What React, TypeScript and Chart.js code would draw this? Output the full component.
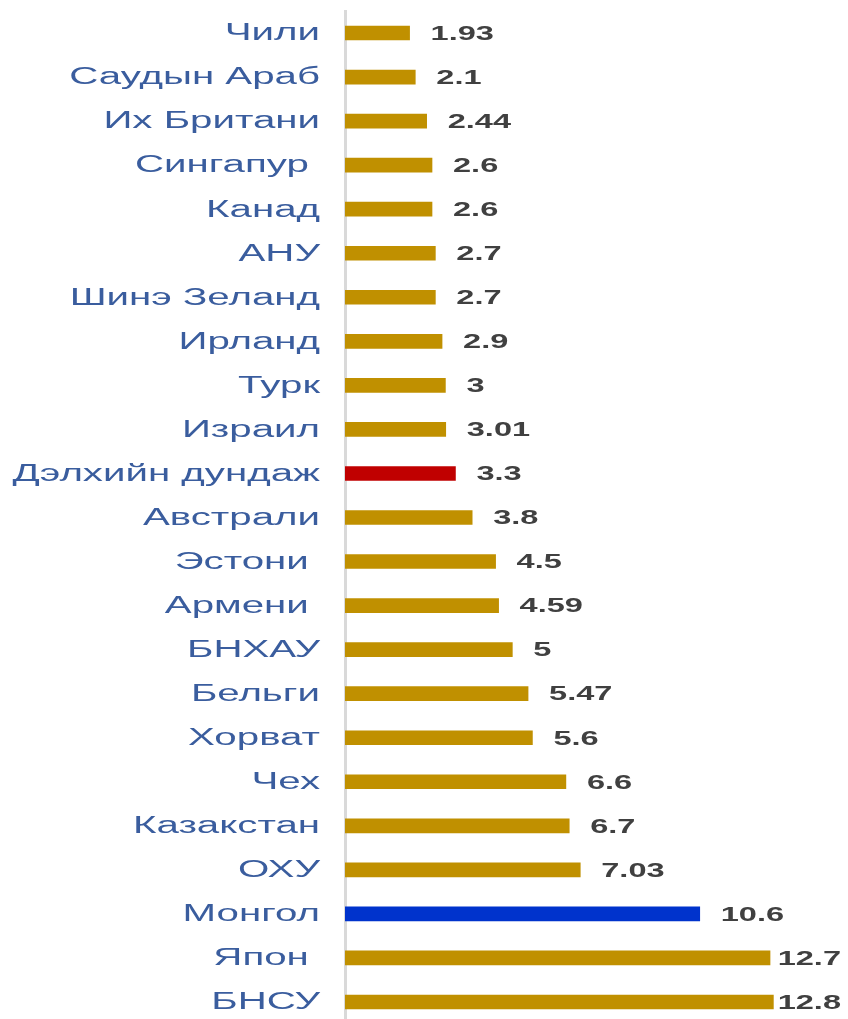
import React, { useEffect, useRef } from "react";
import { Chart, registerables } from "chart.js";

Chart.register(...registerables);

const categories = [
  "Чили", "Саудын Араб", "Их Британи", "Сингапур ", "Канад", "АНУ", "Шинэ Зеланд",
  "Ирланд", "Турк", "Израил", "Дэлхийн дундаж", "Австрали", "Эстони ", "Армени ",
  "БНХАУ", "Бельги", "Хорват", "Чех", "Казакстан", "ОХУ", "Монгол", "Япон ", "БНСУ",
];
const values = [
  1.93, 2.1, 2.44, 2.6, 2.6, 2.7, 2.7, 2.9, 3, 3.01, 3.3, 3.8, 4.5, 4.59, 5, 5.47,
  5.6, 6.6, 6.7, 7.03, 10.6, 12.7, 12.8,
];
const valueLabels = [
  "1.93", "2.1", "2.44", "2.6", "2.6", "2.7", "2.7", "2.9", "3", "3.01", "3.3", "3.8",
  "4.5", "4.59", "5", "5.47", "5.6", "6.6", "6.7", "7.03", "10.6", "12.7", "12.8",
];
const GOLD = "#C09000";
const RED = "#C00000";
const BLUE = "#0033CC";
const barColors = categories.map((c) =>
  c === "Дэлхийн дундаж" ? RED : c === "Монгол" ? BLUE : GOLD
);

const FONT = 'Arial, "Liberation Sans", sans-serif';
const LABEL_SX = 1.75;
const VALUE_SX = 1.55;

const textPlugin = {
  id: "stretchedText",
  afterDatasetsDraw(chart: any) {
    const ctx = chart.ctx;
    const yScale = chart.scales.y;
    const area = chart.chartArea;
    ctx.save();
    // category labels
    ctx.font = `23px ${FONT}`;
    ctx.fillStyle = "#3A5D9E";
    ctx.textBaseline = "middle";
    ctx.textAlign = "right";
    categories.forEach((label, i) => {
      const y = yScale.getPixelForValue(i);
      const xRight = area.left - 25;
      ctx.save();
      ctx.translate(xRight, y + 1);
      ctx.scale(LABEL_SX, 1);
      ctx.fillText(label, 0, 0);
      ctx.restore();
    });
    // value labels
    const meta = chart.getDatasetMeta(0);
    ctx.font = `bold 21px ${FONT}`;
    ctx.fillStyle = "#404040";
    ctx.textAlign = "left";
    meta.data.forEach((bar: any, i: number) => {
      const txt = valueLabels[i];
      const w = ctx.measureText(txt).width * VALUE_SX;
      let x = bar.x + 21;
      const maxX = area.right - 6 - w;
      if (x > maxX) x = Math.max(bar.x + 3, maxX);
      ctx.save();
      ctx.translate(x, bar.y + 1);
      ctx.scale(VALUE_SX, 1);
      ctx.fillText(txt, 0, 0);
      ctx.restore();
    });
    ctx.restore();
  },
};

export default function App() {
  const ref = useRef<HTMLCanvasElement | null>(null);
  useEffect(() => {
    document.body.style.margin = "0";
    document.body.style.overflow = "hidden";
    const canvas = ref.current!;
    const chart = new Chart(canvas, {
      type: "bar",
      data: {
        labels: categories,
        datasets: [
          {
            data: values,
            backgroundColor: barColors,
            barThickness: 14,
          },
        ],
      },
      options: {
        indexAxis: "y",
        animation: false,
        responsive: false,
        devicePixelRatio: 1,
        layout: { padding: { top: 11, bottom: 6, left: 0, right: 1 } },
        plugins: { legend: { display: false }, tooltip: { enabled: false } },
        scales: {
          x: { display: false, min: 0, max: 15 },
          y: {
            grid: { display: false },
            ticks: { display: false },
            border: { display: true, color: "#D9D9D9", width: 3 },
            afterFit: (s: any) => {
              s.width = 345;
            },
          },
        },
      },
      plugins: [textPlugin],
    });
    return () => chart.destroy();
  }, []);
  return (
    <canvas ref={ref} width={848} height={1030} style={{ display: "block", width: 848, height: 1030 }} />
  );
}
